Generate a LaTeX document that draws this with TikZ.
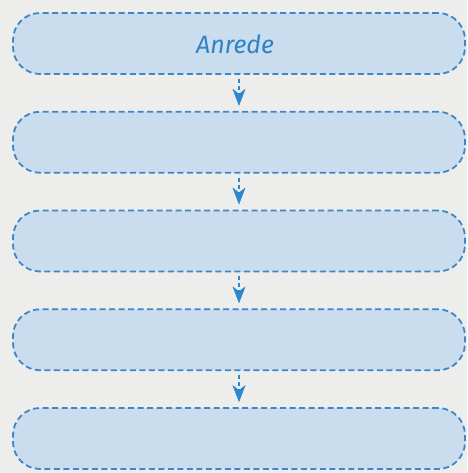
\documentclass[tikz,border=0pt]{standalone}
\usepackage{fontspec}
\setmainfont{Fira Sans}
\usetikzlibrary{arrows.meta}
\definecolor{bgcol}{HTML}{EDEDEC}
\definecolor{boxfill}{HTML}{C9DDEE}
\definecolor{boxline}{HTML}{3E86C6}
\definecolor{arrowcol}{HTML}{2C88CE}
\definecolor{textcol}{HTML}{2F84C6}
\tikzset{
  stepbox/.style={draw=boxline, fill=boxfill, line width=1.8pt,
    dash pattern=on 6pt off 3.5pt, rounded corners=27pt,
    minimum width=452pt, minimum height=61pt, inner sep=0pt},
  flowarrow/.style={draw=arrowcol, line width=1.5pt,
    dash pattern=on 4pt off 3pt,
    -{Stealth[length=17pt,width=13pt,inset=5pt,fill=arrowcol,line width=0.5pt]},
    shorten <=4pt, shorten >=5pt},
  boxtext/.style={text=textcol, font=\itshape\fontsize{25}{28}\selectfont}
}
\begin{document}
\begin{tikzpicture}[x=1pt,y=-1pt]
  \fill[bgcol] (0,0) rectangle (467,473);
  \useasboundingbox (0,0) rectangle (467,473);
  \node[stepbox] (b1) at (239,43.5) {};
  \node[stepbox] (b2) at (239,142.25) {};
  \node[stepbox] (b3) at (239,241) {};
  \node[stepbox] (b4) at (239,339.75) {};
  \node[stepbox] (b5) at (239,438.5) {};
  \node[boxtext] (t1) at (235,44) {Anrede};
  \draw[flowarrow] (b1.south) -- (b2.north);
  \draw[flowarrow] (b2.south) -- (b3.north);
  \draw[flowarrow] (b3.south) -- (b4.north);
  \draw[flowarrow] (b4.south) -- (b5.north);
\end{tikzpicture}
\end{document}
